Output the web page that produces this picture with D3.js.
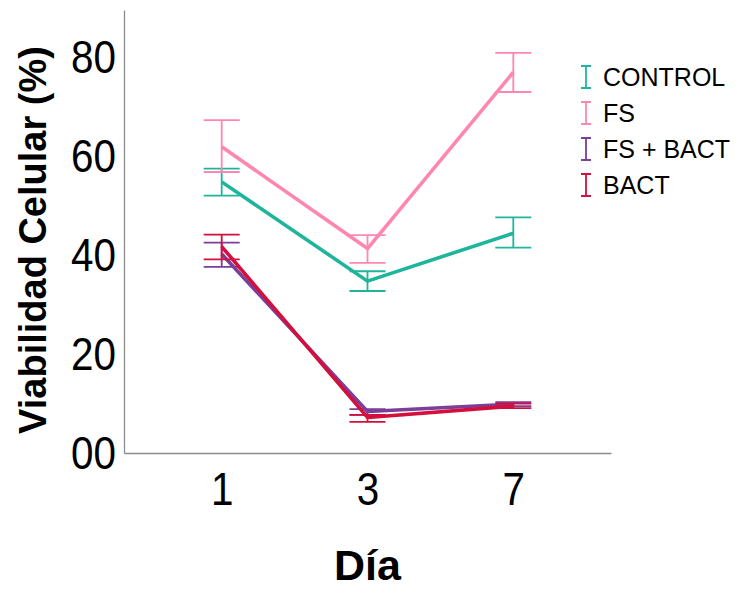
<!DOCTYPE html>
<html>
<head>
<meta charset="utf-8">
<script src="https://cdn.jsdelivr.net/npm/d3@7"></script>
<style>
  body { margin: 0; background: #ffffff; }
  text { font-family: "Liberation Sans", Arial, sans-serif; }
</style>
</head>
<body>
<div id="chart"></div>
<script>
const days = ["1", "3", "7"];
const seriesNames = ["CONTROL", "FS", "FS + BACT", "BACT"];
const seriesColors = ["#1fb59b", "#ff86b1", "#7a3f98", "#d40f3c"];

// mean, lower and upper error-bar ends for each day
const controlMean = [54.9, 34.8, 44.5];
const controlLow = [52.1, 32.8, 41.6];
const controlHigh = [57.6, 36.8, 47.7];

const fsMean = [62.0, 41.4, 77.1];
const fsLow = [56.9, 38.5, 73.1];
const fsHigh = [67.4, 44.1, 81.0];

const fsBactMean = [40.3, 8.4, 9.9];
const fsBactLow = [37.7, 7.7, 9.5];
const fsBactHigh = [42.6, 8.9, 10.3];

const bactMean = [41.8, 7.2, 9.5];
const bactLow = [39.2, 6.3, 9.1];
const bactHigh = [44.2, 7.7, 10.0];

const yTicks = [0, 20, 40, 60, 80];
const yTickLabels = ["00", "20", "40", "60", "80"];

const width = 737;
const height = 590;
const margin = { top: 10, right: 126, bottom: 137, left: 124 };

const series = [
  { name: seriesNames[0], color: seriesColors[0], mean: controlMean, low: controlLow, high: controlHigh },
  { name: seriesNames[1], color: seriesColors[1], mean: fsMean, low: fsLow, high: fsHigh },
  { name: seriesNames[2], color: seriesColors[2], mean: fsBactMean, low: fsBactLow, high: fsBactHigh },
  { name: seriesNames[3], color: seriesColors[3], mean: bactMean, low: bactLow, high: bactHigh },
];

const svg = d3.select("#chart")
  .append("svg")
  .attr("width", width)
  .attr("height", height);

const x = d3.scalePoint()
  .domain(days)
  .range([margin.left, width - margin.right])
  .padding(0.67);

const y = d3.scaleLinear()
  .domain([0, 89.7])
  .range([height - margin.bottom, margin.top]);

// tick labels in the source are a bit condensed
const squeeze = 0.86;

const xAxis = svg.append("g")
  .attr("transform", `translate(0, ${height - margin.bottom})`)
  .call(d3.axisBottom(x).tickSize(0).tickPadding(19));

xAxis.select(".domain").attr("stroke", "#8c8c8c").attr("stroke-width", 1.3);
xAxis.selectAll("text")
  .attr("font-size", 47)
  .attr("fill", "#000")
  .attr("transform", `scale(${squeeze},1)`);

const yAxis = svg.append("g")
  .attr("transform", `translate(${margin.left}, 0)`)
  .call(d3.axisLeft(y).tickValues(yTicks).tickSize(0)
    .tickFormat((d, i) => yTickLabels[i]));

yAxis.select(".domain").attr("stroke", "#8c8c8c").attr("stroke-width", 1.3);
yAxis.selectAll("text")
  .attr("font-size", 47)
  .attr("fill", "#000")
  .attr("x", -8 / squeeze)
  .attr("transform", `scale(${squeeze},1)`);

// axis titles
svg.append("text")
  .attr("x", x("3"))
  .attr("y", 580)
  .attr("text-anchor", "middle")
  .attr("font-size", 43)
  .attr("font-weight", "bold")
  .text("Día");

svg.append("text")
  .attr("transform", `translate(46, 240) rotate(-90)`)
  .attr("text-anchor", "middle")
  .attr("font-size", 38)
  .attr("font-weight", "bold")
  .text("Viabilidad Celular (%)");

const capHalf = 18;

const line = d3.line()
  .x((d) => x(d.day))
  .y((d) => y(d.value));

series.forEach((s) => {
  const g = svg.append("g");
  const pts = days.map((day, i) => ({ day, value: s.mean[i], low: s.low[i], high: s.high[i] }));

  g.selectAll(".err")
    .data(pts)
    .enter()
    .append("path")
    .attr("class", "err")
    .attr("fill", "none")
    .attr("stroke", s.color)
    .attr("stroke-width", 1.8)
    .attr("d", (d) => {
      const cx = x(d.day);
      return `M${cx - capHalf},${y(d.high)}H${cx + capHalf}` +
        `M${cx},${y(d.high)}V${y(d.low)}` +
        `M${cx - capHalf},${y(d.low)}H${cx + capHalf}`;
    });

  g.append("path")
    .datum(pts)
    .attr("fill", "none")
    .attr("stroke", s.color)
    .attr("stroke-width", 3.6)
    .attr("stroke-linejoin", "round")
    .attr("d", line);
});

// legend
const legend = svg.append("g")
  .attr("transform", "translate(586, 77)");

const item = legend.selectAll(".legend-item")
  .data(series)
  .enter()
  .append("g")
  .attr("class", "legend-item")
  .attr("transform", (d, i) => `translate(0, ${i * 36})`);

item.append("path")
  .attr("fill", "none")
  .attr("stroke", (d) => d.color)
  .attr("stroke-width", 1.8)
  .attr("d", "M-5,-11H5M0,-11V11M-5,11H5");

item.append("text")
  .attr("x", 17)
  .attr("y", 0)
  .attr("dy", "0.35em")
  .attr("font-size", 25)
  .attr("fill", "#000")
  .text((d) => d.name);
</script>
</body>
</html>
